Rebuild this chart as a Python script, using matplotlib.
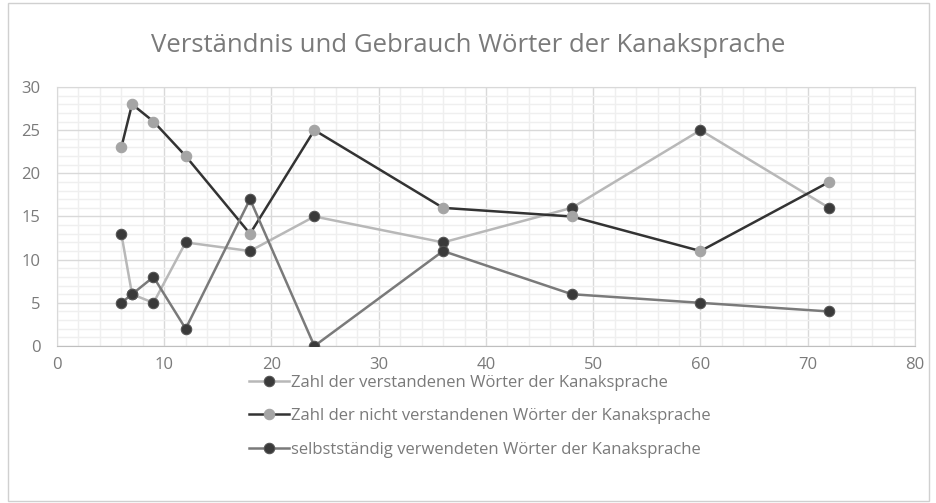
import numpy as np
import matplotlib.pyplot as plt
from matplotlib.ticker import MultipleLocator
from matplotlib.patches import Rectangle

# Data
months = [6, 7, 9, 12, 18, 24, 36, 48, 60, 72]
understood = [13, 6, 5, 12, 11, 15, 12, 16, 25, 16]
not_understood = [23, 28, 26, 22, 13, 25, 16, 15, 11, 19]
used = [5, 6, 8, 2, 17, 0, 11, 6, 5, 4]

labels = ['Zahl der verstandenen Wörter der Kanaksprache',
          'Zahl der nicht verstandenen Wörter der Kanaksprache',
          'selbstständig verwendeten Wörter der Kanaksprache']
title = 'Verständnis und Gebrauch Wörter der Kanaksprache'

plt.rcParams['font.family'] = ['Open Sans', 'DejaVu Sans']
text_col = '#7a7a7a'

fig = plt.figure(figsize=(9.37, 5.03), dpi=100)
ax = fig.add_axes([0.0608, 0.3121, 0.9157, 0.515])

# outer chart border
fig.patches.append(Rectangle((0.009, 0.004), 0.982, 0.99, transform=fig.transFigure,
                             fill=False, edgecolor='#d0d0d0', lw=1))

ax.plot(months, understood, color='#b8b8b8', lw=1.8, marker='o', ms=7.5,
        mfc='#3a3a3a', mec='#555555', mew=0.8, label=labels[0], zorder=3)
ax.plot(months, not_understood, color='#333333', lw=1.8, marker='o', ms=7.5,
        mfc='#a5a5a5', mec='#a5a5a5', mew=0.8, label=labels[1], zorder=3)
ax.plot(months, used, color='#7a7a7a', lw=1.8, marker='o', ms=7.5,
        mfc='#3a3a3a', mec='#555555', mew=0.8, label=labels[2], zorder=3)

ax.set_xlim(0, 80)
ax.set_ylim(0, 30)
ax.xaxis.set_major_locator(MultipleLocator(10))
ax.xaxis.set_minor_locator(MultipleLocator(2))
ax.yaxis.set_major_locator(MultipleLocator(5))
ax.yaxis.set_minor_locator(MultipleLocator(1))
ax.grid(which='major', color='#d9d9d9', lw=1.0)
ax.grid(which='minor', color='#efefef', lw=1.0)
ax.set_axisbelow(True)
ax.tick_params(which='both', length=0, labelsize=12, labelcolor=text_col)
ax.tick_params(axis='y', pad=12)
ax.tick_params(axis='x', pad=8)
for s in ['top', 'right', 'left']:
    ax.spines[s].set_color('#d9d9d9')
ax.spines['bottom'].set_color('#bfbfbf')

fig.text(0.5, 0.91, title, ha='center', va='center', fontsize=18.5, color=text_col)

fig.legend(loc='upper center', bbox_to_anchor=(0.512, 0.285), ncol=1, frameon=False,
           fontsize=12, labelcolor=text_col, handlelength=2.4, handletextpad=0.15,
           labelspacing=1.05)

fig.savefig('out.png', dpi=100)
